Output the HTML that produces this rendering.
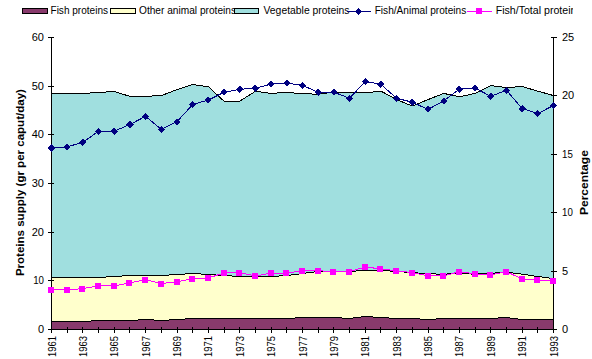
<!DOCTYPE html>
<html><head><meta charset="utf-8"><style>
html,body{margin:0;padding:0;background:#fff;overflow:hidden}
svg{display:block}
</style></head><body>
<svg width="592" height="359" viewBox="0 0 592 359" shape-rendering="crispEdges">
<polygon points="51.50,93.40 67.19,93.40 82.88,93.45 98.56,92.45 114.25,91.50 129.94,96.40 145.62,96.30 161.31,95.60 177.00,89.60 192.69,84.50 208.38,86.70 224.06,101.20 239.75,101.10 255.44,91.30 271.12,93.40 286.81,92.40 302.50,93.70 318.19,94.20 333.88,92.00 349.56,92.40 365.25,92.90 380.94,91.10 396.62,99.60 412.31,106.00 428.00,99.60 443.69,93.40 459.38,96.80 475.06,93.40 490.75,85.60 506.44,87.60 522.12,86.50 537.81,91.20 553.50,95.40 553.50,278.60 537.81,276.50 522.12,274.20 506.44,272.10 490.75,273.30 475.06,274.20 459.38,273.40 443.69,274.20 428.00,273.80 412.31,272.60 396.62,271.50 380.94,270.30 365.25,270.30 349.56,271.50 333.88,271.50 318.19,271.50 302.50,273.50 286.81,275.50 271.12,276.50 255.44,276.50 239.75,276.50 224.06,275.50 208.38,274.50 192.69,273.50 177.00,274.50 161.31,275.50 145.62,275.50 129.94,275.50 114.25,276.50 98.56,277.50 82.88,277.50 67.19,277.50 51.50,277.50" fill="#a0dfdf"/>
<polygon points="51.50,277.50 67.19,277.50 82.88,277.50 98.56,277.50 114.25,276.50 129.94,275.50 145.62,275.50 161.31,275.50 177.00,274.50 192.69,273.50 208.38,274.50 224.06,275.50 239.75,276.50 255.44,276.50 271.12,276.50 286.81,275.50 302.50,273.50 318.19,271.50 333.88,271.50 349.56,271.50 365.25,270.30 380.94,270.30 396.62,271.50 412.31,272.60 428.00,273.80 443.69,274.20 459.38,273.40 475.06,274.20 490.75,273.30 506.44,272.10 522.12,274.20 537.81,276.50 553.50,278.60 553.50,319.50 537.81,319.50 522.12,319.50 506.44,317.50 490.75,318.50 475.06,318.50 459.38,318.50 443.69,318.50 428.00,319.50 412.31,318.50 396.62,318.50 380.94,317.50 365.25,316.50 349.56,318.50 333.88,317.50 318.19,317.50 302.50,317.50 286.81,318.50 271.12,318.50 255.44,318.50 239.75,318.50 224.06,318.50 208.38,318.50 192.69,318.50 177.00,319.50 161.31,320.50 145.62,319.50 129.94,320.50 114.25,320.50 98.56,320.50 82.88,321.50 67.19,321.50 51.50,321.50" fill="#ffffcc"/>
<polygon points="51.50,321.50 67.19,321.50 82.88,321.50 98.56,320.50 114.25,320.50 129.94,320.50 145.62,319.50 161.31,320.50 177.00,319.50 192.69,318.50 208.38,318.50 224.06,318.50 239.75,318.50 255.44,318.50 271.12,318.50 286.81,318.50 302.50,317.50 318.19,317.50 333.88,317.50 349.56,318.50 365.25,316.50 380.94,317.50 396.62,318.50 412.31,318.50 428.00,319.50 443.69,318.50 459.38,318.50 475.06,318.50 490.75,318.50 506.44,317.50 522.12,319.50 537.81,319.50 553.50,319.50 553.50,329.50 537.81,329.50 522.12,329.50 506.44,329.50 490.75,329.50 475.06,329.50 459.38,329.50 443.69,329.50 428.00,329.50 412.31,329.50 396.62,329.50 380.94,329.50 365.25,329.50 349.56,329.50 333.88,329.50 318.19,329.50 302.50,329.50 286.81,329.50 271.12,329.50 255.44,329.50 239.75,329.50 224.06,329.50 208.38,329.50 192.69,329.50 177.00,329.50 161.31,329.50 145.62,329.50 129.94,329.50 114.25,329.50 98.56,329.50 82.88,329.50 67.19,329.50 51.50,329.50" fill="#883a6c"/>
<polyline points="51.50,93.40 67.19,93.40 82.88,93.45 98.56,92.45 114.25,91.50 129.94,96.40 145.62,96.30 161.31,95.60 177.00,89.60 192.69,84.50 208.38,86.70 224.06,101.20 239.75,101.10 255.44,91.30 271.12,93.40 286.81,92.40 302.50,93.70 318.19,94.20 333.88,92.00 349.56,92.40 365.25,92.90 380.94,91.10 396.62,99.60 412.31,106.00 428.00,99.60 443.69,93.40 459.38,96.80 475.06,93.40 490.75,85.60 506.44,87.60 522.12,86.50 537.81,91.20 553.50,95.40" fill="none" stroke="#000" stroke-width="1"/>
<polyline points="51.50,277.50 67.19,277.50 82.88,277.50 98.56,277.50 114.25,276.50 129.94,275.50 145.62,275.50 161.31,275.50 177.00,274.50 192.69,273.50 208.38,274.50 224.06,275.50 239.75,276.50 255.44,276.50 271.12,276.50 286.81,275.50 302.50,273.50 318.19,271.50 333.88,271.50 349.56,271.50 365.25,270.30 380.94,270.30 396.62,271.50 412.31,272.60 428.00,273.80 443.69,274.20 459.38,273.40 475.06,274.20 490.75,273.30 506.44,272.10 522.12,274.20 537.81,276.50 553.50,278.60" fill="none" stroke="#000" stroke-width="1"/>
<polyline points="51.50,321.50 67.19,321.50 82.88,321.50 98.56,320.50 114.25,320.50 129.94,320.50 145.62,319.50 161.31,320.50 177.00,319.50 192.69,318.50 208.38,318.50 224.06,318.50 239.75,318.50 255.44,318.50 271.12,318.50 286.81,318.50 302.50,317.50 318.19,317.50 333.88,317.50 349.56,318.50 365.25,316.50 380.94,317.50 396.62,318.50 412.31,318.50 428.00,319.50 443.69,318.50 459.38,318.50 475.06,318.50 490.75,318.50 506.44,317.50 522.12,319.50 537.81,319.50 553.50,319.50" fill="none" stroke="#000" stroke-width="1"/>
<g stroke="#000" stroke-width="1" shape-rendering="crispEdges">
<line x1="51.5" y1="37.5" x2="51.5" y2="329.5"/>
<line x1="553.5" y1="37.5" x2="553.5" y2="329.5"/>
<line x1="51" y1="329.5" x2="554" y2="329.5"/>
<line x1="48" y1="329.50" x2="54" y2="329.50"/>
<line x1="48" y1="280.83" x2="54" y2="280.83"/>
<line x1="48" y1="232.17" x2="54" y2="232.17"/>
<line x1="48" y1="183.50" x2="54" y2="183.50"/>
<line x1="48" y1="134.83" x2="54" y2="134.83"/>
<line x1="48" y1="86.17" x2="54" y2="86.17"/>
<line x1="48" y1="37.50" x2="54" y2="37.50"/>
<line x1="551" y1="329.50" x2="557" y2="329.50"/>
<line x1="551" y1="271.10" x2="557" y2="271.10"/>
<line x1="551" y1="212.70" x2="557" y2="212.70"/>
<line x1="551" y1="154.30" x2="557" y2="154.30"/>
<line x1="551" y1="95.90" x2="557" y2="95.90"/>
<line x1="551" y1="37.50" x2="557" y2="37.50"/>
<line x1="51.50" y1="327" x2="51.50" y2="333"/>
<line x1="67.19" y1="327" x2="67.19" y2="333"/>
<line x1="82.88" y1="327" x2="82.88" y2="333"/>
<line x1="98.56" y1="327" x2="98.56" y2="333"/>
<line x1="114.25" y1="327" x2="114.25" y2="333"/>
<line x1="129.94" y1="327" x2="129.94" y2="333"/>
<line x1="145.62" y1="327" x2="145.62" y2="333"/>
<line x1="161.31" y1="327" x2="161.31" y2="333"/>
<line x1="177.00" y1="327" x2="177.00" y2="333"/>
<line x1="192.69" y1="327" x2="192.69" y2="333"/>
<line x1="208.38" y1="327" x2="208.38" y2="333"/>
<line x1="224.06" y1="327" x2="224.06" y2="333"/>
<line x1="239.75" y1="327" x2="239.75" y2="333"/>
<line x1="255.44" y1="327" x2="255.44" y2="333"/>
<line x1="271.12" y1="327" x2="271.12" y2="333"/>
<line x1="286.81" y1="327" x2="286.81" y2="333"/>
<line x1="302.50" y1="327" x2="302.50" y2="333"/>
<line x1="318.19" y1="327" x2="318.19" y2="333"/>
<line x1="333.88" y1="327" x2="333.88" y2="333"/>
<line x1="349.56" y1="327" x2="349.56" y2="333"/>
<line x1="365.25" y1="327" x2="365.25" y2="333"/>
<line x1="380.94" y1="327" x2="380.94" y2="333"/>
<line x1="396.62" y1="327" x2="396.62" y2="333"/>
<line x1="412.31" y1="327" x2="412.31" y2="333"/>
<line x1="428.00" y1="327" x2="428.00" y2="333"/>
<line x1="443.69" y1="327" x2="443.69" y2="333"/>
<line x1="459.38" y1="327" x2="459.38" y2="333"/>
<line x1="475.06" y1="327" x2="475.06" y2="333"/>
<line x1="490.75" y1="327" x2="490.75" y2="333"/>
<line x1="506.44" y1="327" x2="506.44" y2="333"/>
<line x1="522.12" y1="327" x2="522.12" y2="333"/>
<line x1="537.81" y1="327" x2="537.81" y2="333"/>
<line x1="553.50" y1="327" x2="553.50" y2="333"/>
</g>
<polyline points="51.50,148.00 67.19,146.80 82.88,142.40 98.56,131.20 114.25,131.20 129.94,124.50 145.62,116.30 161.31,129.50 177.00,121.70 192.69,104.50 208.38,100.00 224.06,92.30 239.75,89.30 255.44,88.10 271.12,84.10 286.81,83.10 302.50,85.30 318.19,92.40 333.88,92.20 349.56,98.30 365.25,81.40 380.94,84.40 396.62,98.30 412.31,102.20 428.00,109.40 443.69,101.00 459.38,89.20 475.06,88.10 490.75,96.30 506.44,90.30 522.12,108.60 537.81,113.50 553.50,105.50" fill="none" stroke="#000080" stroke-width="1"/>
<polyline points="51.50,289.90 67.19,289.90 82.88,288.60 98.56,285.90 114.25,285.90 129.94,282.80 145.62,279.80 161.31,283.60 177.00,281.70 192.69,278.80 208.38,278.00 224.06,272.90 239.75,272.80 255.44,275.90 271.12,273.20 286.81,273.20 302.50,270.70 318.19,270.70 333.88,271.70 349.56,271.70 365.25,266.90 380.94,269.00 396.62,270.70 412.31,272.70 428.00,275.70 443.69,275.90 459.38,271.70 475.06,273.80 490.75,274.80 506.44,271.70 522.12,279.00 537.81,280.00 553.50,281.10" fill="none" stroke="#ff00ff" stroke-width="1"/>
<polygon points="51.50,144.40 55.10,148.00 51.50,151.60 47.90,148.00" fill="#000080"/>
<polygon points="67.19,143.20 70.79,146.80 67.19,150.40 63.59,146.80" fill="#000080"/>
<polygon points="82.88,138.80 86.47,142.40 82.88,146.00 79.28,142.40" fill="#000080"/>
<polygon points="98.56,127.60 102.16,131.20 98.56,134.80 94.96,131.20" fill="#000080"/>
<polygon points="114.25,127.60 117.85,131.20 114.25,134.80 110.65,131.20" fill="#000080"/>
<polygon points="129.94,120.90 133.54,124.50 129.94,128.10 126.34,124.50" fill="#000080"/>
<polygon points="145.62,112.70 149.22,116.30 145.62,119.90 142.03,116.30" fill="#000080"/>
<polygon points="161.31,125.90 164.91,129.50 161.31,133.10 157.71,129.50" fill="#000080"/>
<polygon points="177.00,118.10 180.60,121.70 177.00,125.30 173.40,121.70" fill="#000080"/>
<polygon points="192.69,100.90 196.29,104.50 192.69,108.10 189.09,104.50" fill="#000080"/>
<polygon points="208.38,96.40 211.97,100.00 208.38,103.60 204.78,100.00" fill="#000080"/>
<polygon points="224.06,88.70 227.66,92.30 224.06,95.90 220.46,92.30" fill="#000080"/>
<polygon points="239.75,85.70 243.35,89.30 239.75,92.90 236.15,89.30" fill="#000080"/>
<polygon points="255.44,84.50 259.04,88.10 255.44,91.70 251.84,88.10" fill="#000080"/>
<polygon points="271.12,80.50 274.73,84.10 271.12,87.70 267.52,84.10" fill="#000080"/>
<polygon points="286.81,79.50 290.41,83.10 286.81,86.70 283.21,83.10" fill="#000080"/>
<polygon points="302.50,81.70 306.10,85.30 302.50,88.90 298.90,85.30" fill="#000080"/>
<polygon points="318.19,88.80 321.79,92.40 318.19,96.00 314.59,92.40" fill="#000080"/>
<polygon points="333.88,88.60 337.48,92.20 333.88,95.80 330.27,92.20" fill="#000080"/>
<polygon points="349.56,94.70 353.16,98.30 349.56,101.90 345.96,98.30" fill="#000080"/>
<polygon points="365.25,77.80 368.85,81.40 365.25,85.00 361.65,81.40" fill="#000080"/>
<polygon points="380.94,80.80 384.54,84.40 380.94,88.00 377.34,84.40" fill="#000080"/>
<polygon points="396.62,94.70 400.23,98.30 396.62,101.90 393.02,98.30" fill="#000080"/>
<polygon points="412.31,98.60 415.91,102.20 412.31,105.80 408.71,102.20" fill="#000080"/>
<polygon points="428.00,105.80 431.60,109.40 428.00,113.00 424.40,109.40" fill="#000080"/>
<polygon points="443.69,97.40 447.29,101.00 443.69,104.60 440.09,101.00" fill="#000080"/>
<polygon points="459.38,85.60 462.98,89.20 459.38,92.80 455.77,89.20" fill="#000080"/>
<polygon points="475.06,84.50 478.66,88.10 475.06,91.70 471.46,88.10" fill="#000080"/>
<polygon points="490.75,92.70 494.35,96.30 490.75,99.90 487.15,96.30" fill="#000080"/>
<polygon points="506.44,86.70 510.04,90.30 506.44,93.90 502.84,90.30" fill="#000080"/>
<polygon points="522.12,105.00 525.73,108.60 522.12,112.20 518.52,108.60" fill="#000080"/>
<polygon points="537.81,109.90 541.41,113.50 537.81,117.10 534.21,113.50" fill="#000080"/>
<polygon points="553.50,101.90 557.10,105.50 553.50,109.10 549.90,105.50" fill="#000080"/>
<rect x="48.00" y="286.90" width="6" height="6" fill="#ff00ff"/>
<rect x="63.69" y="286.90" width="6" height="6" fill="#ff00ff"/>
<rect x="79.38" y="285.60" width="6" height="6" fill="#ff00ff"/>
<rect x="95.06" y="282.90" width="6" height="6" fill="#ff00ff"/>
<rect x="110.75" y="282.90" width="6" height="6" fill="#ff00ff"/>
<rect x="126.44" y="279.80" width="6" height="6" fill="#ff00ff"/>
<rect x="142.12" y="276.80" width="6" height="6" fill="#ff00ff"/>
<rect x="157.81" y="280.60" width="6" height="6" fill="#ff00ff"/>
<rect x="173.50" y="278.70" width="6" height="6" fill="#ff00ff"/>
<rect x="189.19" y="275.80" width="6" height="6" fill="#ff00ff"/>
<rect x="204.88" y="275.00" width="6" height="6" fill="#ff00ff"/>
<rect x="220.56" y="269.90" width="6" height="6" fill="#ff00ff"/>
<rect x="236.25" y="269.80" width="6" height="6" fill="#ff00ff"/>
<rect x="251.94" y="272.90" width="6" height="6" fill="#ff00ff"/>
<rect x="267.62" y="270.20" width="6" height="6" fill="#ff00ff"/>
<rect x="283.31" y="270.20" width="6" height="6" fill="#ff00ff"/>
<rect x="299.00" y="267.70" width="6" height="6" fill="#ff00ff"/>
<rect x="314.69" y="267.70" width="6" height="6" fill="#ff00ff"/>
<rect x="330.38" y="268.70" width="6" height="6" fill="#ff00ff"/>
<rect x="346.06" y="268.70" width="6" height="6" fill="#ff00ff"/>
<rect x="361.75" y="263.90" width="6" height="6" fill="#ff00ff"/>
<rect x="377.44" y="266.00" width="6" height="6" fill="#ff00ff"/>
<rect x="393.12" y="267.70" width="6" height="6" fill="#ff00ff"/>
<rect x="408.81" y="269.70" width="6" height="6" fill="#ff00ff"/>
<rect x="424.50" y="272.70" width="6" height="6" fill="#ff00ff"/>
<rect x="440.19" y="272.90" width="6" height="6" fill="#ff00ff"/>
<rect x="455.88" y="268.70" width="6" height="6" fill="#ff00ff"/>
<rect x="471.56" y="270.80" width="6" height="6" fill="#ff00ff"/>
<rect x="487.25" y="271.80" width="6" height="6" fill="#ff00ff"/>
<rect x="502.94" y="268.70" width="6" height="6" fill="#ff00ff"/>
<rect x="518.62" y="276.00" width="6" height="6" fill="#ff00ff"/>
<rect x="534.31" y="277.00" width="6" height="6" fill="#ff00ff"/>
<rect x="550.00" y="278.10" width="6" height="6" fill="#ff00ff"/>
<text x="44" y="333.00" text-anchor="end"  font-family="Liberation Sans, sans-serif" font-size="11" fill="#000">0</text>
<text x="44" y="284.33" text-anchor="end" textLength="10.8" lengthAdjust="spacingAndGlyphs" font-family="Liberation Sans, sans-serif" font-size="11" fill="#000">10</text>
<text x="44" y="235.67" text-anchor="end"  font-family="Liberation Sans, sans-serif" font-size="11" fill="#000">20</text>
<text x="44" y="187.00" text-anchor="end"  font-family="Liberation Sans, sans-serif" font-size="11" fill="#000">30</text>
<text x="44" y="138.33" text-anchor="end"  font-family="Liberation Sans, sans-serif" font-size="11" fill="#000">40</text>
<text x="44" y="89.67" text-anchor="end"  font-family="Liberation Sans, sans-serif" font-size="11" fill="#000">50</text>
<text x="44" y="41.00" text-anchor="end"  font-family="Liberation Sans, sans-serif" font-size="11" fill="#000">60</text>
<text x="562" y="333.00"  font-family="Liberation Sans, sans-serif" font-size="11" fill="#000">0</text>
<text x="562" y="274.60"  font-family="Liberation Sans, sans-serif" font-size="11" fill="#000">5</text>
<text x="562" y="216.20" textLength="10.8" lengthAdjust="spacingAndGlyphs" font-family="Liberation Sans, sans-serif" font-size="11" fill="#000">10</text>
<text x="562" y="157.80" textLength="10.8" lengthAdjust="spacingAndGlyphs" font-family="Liberation Sans, sans-serif" font-size="11" fill="#000">15</text>
<text x="562" y="99.40"  font-family="Liberation Sans, sans-serif" font-size="11" fill="#000">20</text>
<text x="562" y="41.00"  font-family="Liberation Sans, sans-serif" font-size="11" fill="#000">25</text>
<text transform="translate(55.50,336) rotate(-90)" text-anchor="end" textLength="21" lengthAdjust="spacingAndGlyphs" font-family="Liberation Sans, sans-serif" font-size="11" fill="#000">1961</text>
<text transform="translate(86.88,336) rotate(-90)" text-anchor="end" textLength="21" lengthAdjust="spacingAndGlyphs" font-family="Liberation Sans, sans-serif" font-size="11" fill="#000">1963</text>
<text transform="translate(118.25,336) rotate(-90)" text-anchor="end" textLength="21" lengthAdjust="spacingAndGlyphs" font-family="Liberation Sans, sans-serif" font-size="11" fill="#000">1965</text>
<text transform="translate(149.62,336) rotate(-90)" text-anchor="end" textLength="21" lengthAdjust="spacingAndGlyphs" font-family="Liberation Sans, sans-serif" font-size="11" fill="#000">1967</text>
<text transform="translate(181.00,336) rotate(-90)" text-anchor="end" textLength="21" lengthAdjust="spacingAndGlyphs" font-family="Liberation Sans, sans-serif" font-size="11" fill="#000">1969</text>
<text transform="translate(212.38,336) rotate(-90)" text-anchor="end" textLength="21" lengthAdjust="spacingAndGlyphs" font-family="Liberation Sans, sans-serif" font-size="11" fill="#000">1971</text>
<text transform="translate(243.75,336) rotate(-90)" text-anchor="end" textLength="21" lengthAdjust="spacingAndGlyphs" font-family="Liberation Sans, sans-serif" font-size="11" fill="#000">1973</text>
<text transform="translate(275.12,336) rotate(-90)" text-anchor="end" textLength="21" lengthAdjust="spacingAndGlyphs" font-family="Liberation Sans, sans-serif" font-size="11" fill="#000">1975</text>
<text transform="translate(306.50,336) rotate(-90)" text-anchor="end" textLength="21" lengthAdjust="spacingAndGlyphs" font-family="Liberation Sans, sans-serif" font-size="11" fill="#000">1977</text>
<text transform="translate(337.88,336) rotate(-90)" text-anchor="end" textLength="21" lengthAdjust="spacingAndGlyphs" font-family="Liberation Sans, sans-serif" font-size="11" fill="#000">1979</text>
<text transform="translate(369.25,336) rotate(-90)" text-anchor="end" textLength="21" lengthAdjust="spacingAndGlyphs" font-family="Liberation Sans, sans-serif" font-size="11" fill="#000">1981</text>
<text transform="translate(400.62,336) rotate(-90)" text-anchor="end" textLength="21" lengthAdjust="spacingAndGlyphs" font-family="Liberation Sans, sans-serif" font-size="11" fill="#000">1983</text>
<text transform="translate(432.00,336) rotate(-90)" text-anchor="end" textLength="21" lengthAdjust="spacingAndGlyphs" font-family="Liberation Sans, sans-serif" font-size="11" fill="#000">1985</text>
<text transform="translate(463.38,336) rotate(-90)" text-anchor="end" textLength="21" lengthAdjust="spacingAndGlyphs" font-family="Liberation Sans, sans-serif" font-size="11" fill="#000">1987</text>
<text transform="translate(494.75,336) rotate(-90)" text-anchor="end" textLength="21" lengthAdjust="spacingAndGlyphs" font-family="Liberation Sans, sans-serif" font-size="11" fill="#000">1989</text>
<text transform="translate(526.12,336) rotate(-90)" text-anchor="end" textLength="21" lengthAdjust="spacingAndGlyphs" font-family="Liberation Sans, sans-serif" font-size="11" fill="#000">1991</text>
<text transform="translate(557.50,336) rotate(-90)" text-anchor="end" textLength="21" lengthAdjust="spacingAndGlyphs" font-family="Liberation Sans, sans-serif" font-size="11" fill="#000">1993</text>
<text transform="translate(24,182.6) rotate(-90)" text-anchor="middle" textLength="187" lengthAdjust="spacingAndGlyphs" font-family="Liberation Sans, sans-serif" font-size="11" font-weight="bold" fill="#000">Proteins supply (gr per caput/day)</text>
<text transform="translate(587.5,182.6) rotate(-90)" text-anchor="middle" textLength="65" lengthAdjust="spacingAndGlyphs" font-family="Liberation Sans, sans-serif" font-size="11" font-weight="bold" fill="#000">Percentage</text>
<text x="50.5" y="14" textLength="57.5" lengthAdjust="spacingAndGlyphs" font-family="Liberation Sans, sans-serif" font-size="11" fill="#000">Fish proteins</text>
<text x="139" y="14" textLength="97" lengthAdjust="spacingAndGlyphs" font-family="Liberation Sans, sans-serif" font-size="11" fill="#000">Other animal proteins</text>
<text x="263.5" y="14" textLength="86" lengthAdjust="spacingAndGlyphs" font-family="Liberation Sans, sans-serif" font-size="11" fill="#000">Vegetable proteins</text>
<text x="374.7" y="14" textLength="91.5" lengthAdjust="spacingAndGlyphs" font-family="Liberation Sans, sans-serif" font-size="11" fill="#000">Fish/Animal proteins</text>
<text x="495.7" y="14" textLength="86" lengthAdjust="spacingAndGlyphs" font-family="Liberation Sans, sans-serif" font-size="11" fill="#000">Fish/Total proteins</text>
<rect x="22.5" y="8.5" width="25" height="5" fill="#883a6c" stroke="#000" shape-rendering="crispEdges"/>
<rect x="110.5" y="8.5" width="25" height="5" fill="#ffffcc" stroke="#000" shape-rendering="crispEdges"/>
<rect x="234.5" y="8.5" width="24" height="5" fill="#a0dfdf" stroke="#000" shape-rendering="crispEdges"/>
<line x1="346.5" y1="11.5" x2="371" y2="11.5" stroke="#000080"/>
<polygon points="358.5,8 362,11.5 358.5,15 355,11.5" fill="#000080"/>
<line x1="467" y1="11.5" x2="492" y2="11.5" stroke="#ff00ff"/>
<rect x="476" y="8" width="6" height="6" fill="#ff00ff"/>
<rect x="573" y="0" width="19" height="20" fill="#fff"/>
</svg>
</body></html>
